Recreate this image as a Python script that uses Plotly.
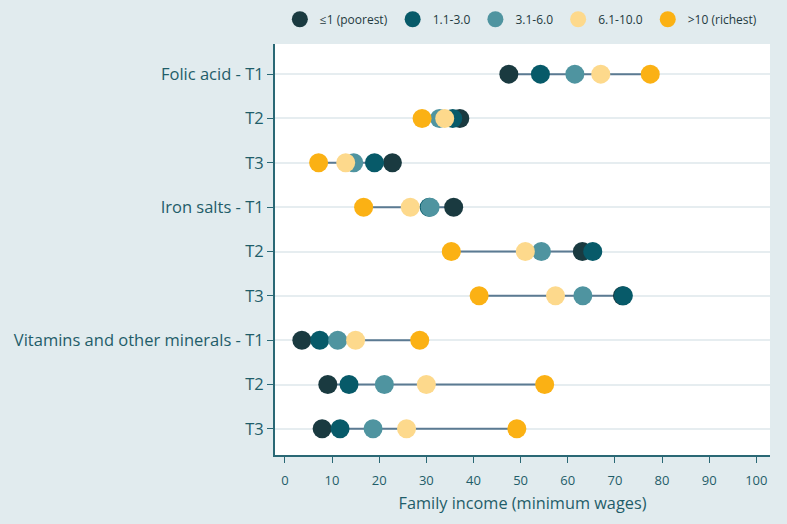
import plotly.graph_objects as go

rows = ["Folic acid - T1", "T2", "T3", "Iron salts - T1", "T2", "T3",
        "Vitamins and other minerals - T1", "T2", "T3"]
groups = ["≤1 (poorest)", "1.1-3.0", "3.1-6.0", "6.1-10.0", ">10 (richest)"]
colors = ["#1a3a40", "#075a69", "#4f94a0", "#fdd98c", "#fbb114"]

poorest = [47.5, 37.1, 22.8, 35.8, 63.1, 71.6, 3.6, 9.1, 7.9]
inc_1_3 = [54.2, 35.6, 19.0, 30.6, 65.3, 71.8, 7.4, 13.6, 11.7]
inc_3_6 = [61.5, 32.8, 14.6, 30.8, 54.4, 63.2, 11.2, 21.1, 18.7]
inc_6_10 = [67.0, 33.9, 12.9, 26.6, 51.0, 57.4, 15.0, 30.0, 25.8]
richest = [77.5, 29.1, 7.15, 16.7, 35.3, 41.2, 28.6, 55.1, 49.2]

series = [poorest, inc_1_3, inc_3_6, inc_6_10, richest]
ypos = list(range(1, len(rows) + 1))

fig = go.Figure()

# connecting lines (min to max per row)
lx, ly = [], []
for i, y in enumerate(ypos):
    vals = [s[i] for s in series]
    lx += [min(vals), max(vals), None]
    ly += [y, y, None]
fig.add_trace(go.Scatter(x=lx, y=ly, mode="lines", line=dict(color="#5b7a92", width=2),
                         showlegend=False, hoverinfo="skip"))

for name, vals, c in zip(groups, series, colors):
    fig.add_trace(go.Scatter(x=vals, y=ypos, mode="markers", name=name,
                             marker=dict(color=c, size=19, line=dict(width=0))))

axis_col = "#1f5d69"
fig.update_layout(
    width=787, height=524,
    paper_bgcolor="#e1ebee", plot_bgcolor="#ffffff",
    margin=dict(l=275, r=17, t=44, b=69, autoexpand=False),
    font=dict(family="Open Sans", color=axis_col),
    showlegend=True,
    legend=dict(orientation="h", x=0.0098, xanchor="left", y=1.025, yanchor="bottom",
                font=dict(size=12, color="#1f3a40"), bgcolor="rgba(0,0,0,0)",
                itemsizing="trace", traceorder="normal"),
    xaxis=dict(range=[-2.1, 102.9], tickvals=list(range(0, 101, 10)),
               showgrid=False, zeroline=False, showline=True, linecolor="#2a6875",
               linewidth=2, ticks="outside", ticklen=6, tickcolor="#2a6875",
               ticklabelstandoff=6,
               tickfont=dict(size=13, color=axis_col),
               title=dict(text="Family income (minimum wages)", font=dict(size=16.3, color=axis_col),
                          standoff=10)),
    yaxis=dict(range=[9.59, 0.32], tickvals=ypos, ticktext=rows,
               showgrid=True, gridcolor="#e6edf0", gridwidth=1.5, zeroline=False,
               showline=True, linecolor="#2a6875", linewidth=2,
               ticks="outside", ticklen=6, tickcolor="#2a6875",
               tickfont=dict(size=16.5, color=axis_col)),
)

fig.write_html("out.html", config={"displayModeBar": False},
               post_script="document.body.style.margin='0';document.body.style.background='#e1ebee';")
